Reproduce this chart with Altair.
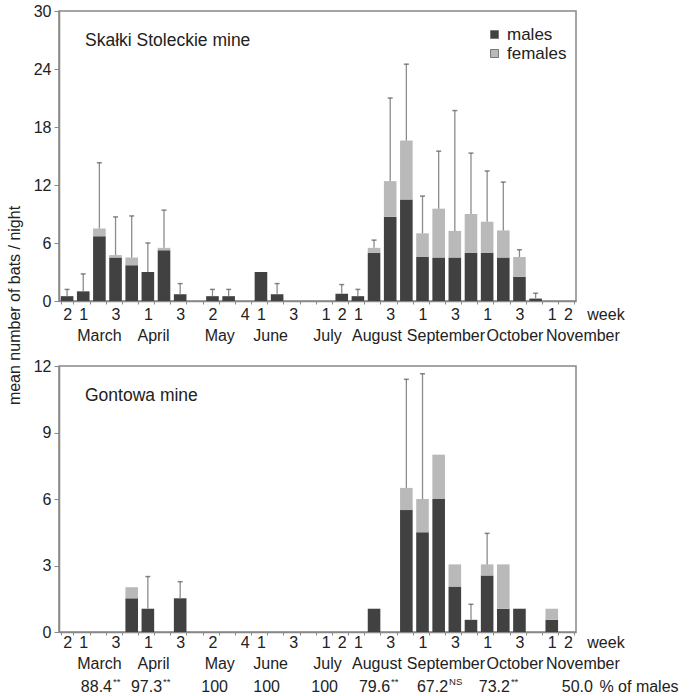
import altair as alt
import pandas as pd

FONT = "Liberation Sans"

slots = list(range(1, 33))
week_labels = ["2", "1", "", "3", "", "1", "", "3", "", "2", "", "4", "1", "", "3", "",
               "1", "2", "1", "", "3", "", "1", "", "3", "", "1", "", "3", "", "1", "2"]

# Skałki Stoleckie mine
top_males = [0.5, 1.0, 6.7, 4.5, 3.7, 3.0, 5.25, 0.7, 0, 0.5, 0.5, 0, 3.0, 0.7, 0, 0,
             0, 0.75, 0.5, 5.0, 8.7, 10.5, 4.55, 4.5, 4.5, 5.0, 5.0, 4.5, 2.5, 0.25, 0, 0]
top_females = [0, 0, 0.8, 0.25, 0.8, 0, 0.25, 0, 0, 0, 0, 0, 0, 0, 0, 0,
               0, 0, 0, 0.5, 3.7, 6.1, 2.45, 5.05, 2.75, 4.0, 3.2, 2.8, 2.05, 0, 0, 0]
top_sd = [0.7, 1.8, 6.8, 3.95, 4.3, 3.0, 3.9, 1.1, 0, 0.7, 0.7, 0, 0, 1.1, 0, 0,
          0, 0.95, 0.7, 0.8, 8.6, 7.9, 3.85, 5.95, 12.45, 6.3, 5.25, 5.0, 0.75, 0.55, 0, 0]

# Gontowa mine
bot_males = [0, 0, 0, 0, 1.52, 1.05, 0, 1.52, 0, 0, 0, 0, 0, 0, 0, 0,
             0, 0, 0, 1.05, 0, 5.5, 4.5, 6.0, 2.05, 0.55, 2.55, 1.05, 1.05, 0, 0.55, 0]
bot_females = [0, 0, 0, 0, 0.5, 0, 0, 0, 0, 0, 0, 0, 0, 0, 0, 0,
               0, 0, 0, 0, 0, 1.0, 1.5, 2.0, 1.0, 0, 0.5, 2.0, 0, 0, 0.5, 0]
bot_sd = [0, 0, 0, 0, 0, 1.45, 0, 0.75, 0, 0, 0, 0, 0, 0, 0, 0,
          0, 0, 0, 0, 0, 4.9, 5.65, 0, 0, 0.7, 1.4, 0, 0, 0, 0, 0]

month_names = ["March", "April", "May", "June", "July", "August", "September", "October", "November"]
month_pos = [3.0, 6.35, 10.45, 13.6, 17.12, 20.18, 24.45, 28.72, 32.93]

pct_values = ["88.4", "97.3", "100", "100", "100", "79.6", "67.2", "73.2", "50.0"]
pct_marks = ["**", "**", "", "", "", "**", "NS", "**", ""]
pct_pos = [3.78, 6.88, 10.96, 14.18, 17.77, 20.99, 24.58, 28.41, 33.55]

W = 517
label_expr = "[" + ",".join("'" + s + "'" for s in week_labels) + "][datum.value - 1]"
qscale = alt.Scale(domain=[0.5, 32.5], nice=False, zero=False)
bscale = alt.Scale(domain=slots, paddingInner=0.22, paddingOuter=0.11)


def panel(males, females, sd, ymax, ystep, title, H, label_pad, month_dy,
          legend, ytitle, pct=False):
    rows = []
    for s, m, f in zip(slots, males, females):
        rows.append({"slot": s, "sex": "males", "value": m, "ord": 0})
        rows.append({"slot": s, "sex": "females", "value": f, "ord": 1})
    df = pd.DataFrame(rows)
    err = pd.DataFrame([
        {"slot": s, "total": m + f, "top": m + f + e}
        for s, m, f, e in zip(slots, males, females, sd) if e > 0
    ])

    yaxis = alt.Axis(values=list(range(0, ymax + 1, ystep)), tickSize=5, labelPadding=3,
                     grid=False, title=None)
    if ytitle:
        yaxis = alt.Axis(values=list(range(0, ymax + 1, ystep)), tickSize=5, labelPadding=3,
                         grid=False, title=ytitle, titleFontSize=16, titleFontWeight="normal",
                         titleFont=FONT, titleColor="#222", titleX=-45, titleY=294,
                         titleAngle=270, titleAlign="center", titleBaseline="middle")
    yscale = alt.Scale(domain=[0, ymax], nice=False)

    bars = alt.Chart(df).mark_bar().encode(
        x=alt.X("slot:O", scale=bscale,
                axis=alt.Axis(title=None, labelExpr=label_expr, labelAngle=0,
                              tickBand="extent", tickSize=3, labelPadding=label_pad)),
        y=alt.Y("value:Q", stack="zero", scale=yscale, axis=yaxis),
        color=alt.Color("sex:N",
                        scale=alt.Scale(domain=["males", "females"], range=["#414141", "#b9b9b9"]),
                        legend=legend),
        order=alt.Order("ord:Q", sort="ascending"),
    )
    rule = alt.Chart(err).mark_rule(color="#8c8c8c", strokeWidth=1.3).encode(
        x=alt.X("slot:O", scale=bscale, axis=None),
        y=alt.Y("total:Q", scale=yscale),
        y2="top:Q",
    )
    cap = alt.Chart(err).mark_tick(color="#555555", thickness=1.5, size=5).encode(
        x=alt.X("slot:O", scale=bscale, axis=None),
        y=alt.Y("top:Q", scale=yscale),
    )
    ttl = alt.Chart(pd.DataFrame({"t": [title]})).mark_text(
        align="left", baseline="middle", fontSize=17.5, font=FONT, color="#222"
    ).encode(x=alt.value(26), y=alt.value(30), text="t:N")
    months = alt.Chart(pd.DataFrame({"m": month_names, "pos": month_pos})).mark_text(
        baseline="middle", fontSize=16, font=FONT, color="#222"
    ).encode(x=alt.X("pos:Q", scale=qscale, axis=None), y=alt.value(H + month_dy), text="m:N")
    week = alt.Chart(pd.DataFrame({"t": ["week"], "pos": [33.2]})).mark_text(
        align="left", baseline="middle", fontSize=16, font=FONT, color="#222"
    ).encode(x=alt.X("pos:Q", scale=qscale, axis=None),
             y=alt.value(H + label_pad + 12), text="t:N")
    layers = [bars, rule, cap, ttl, months, week]
    if pct:
        pdf = pd.DataFrame({"v": pct_values, "s": pct_marks, "pos": pct_pos})
        vals = alt.Chart(pdf).mark_text(
            align="right", baseline="middle", fontSize=16, font=FONT, color="#222"
        ).encode(x=alt.X("pos:Q", scale=qscale, axis=None), y=alt.value(H + 55), text="v:N")
        sups = alt.Chart(pdf).mark_text(
            align="left", baseline="middle", fontSize=9.5, font=FONT, color="#222", dx=1
        ).encode(x=alt.X("pos:Q", scale=qscale, axis=None), y=alt.value(H + 50), text="s:N")
        unit = alt.Chart(pd.DataFrame({"t": ["% of males"], "pos": [33.95]})).mark_text(
            align="left", baseline="middle", fontSize=16, font=FONT, color="#222"
        ).encode(x=alt.X("pos:Q", scale=qscale, axis=None), y=alt.value(H + 55), text="t:N")
        layers += [vals, sups, unit]
    return alt.layer(*layers).resolve_scale(x="independent").properties(width=W, height=H)


top = panel(top_males, top_females, top_sd, 30, 6, "Skałki Stoleckie mine", 290, 2, 35,
            alt.Legend(title=None, orient="none", legendX=427, legendY=15, symbolType="square",
                       symbolSize=64, symbolStrokeColor="#777777", symbolStrokeWidth=1,
                       labelFontSize=17, labelFont=FONT, labelColor="#222", rowPadding=1,
                       labelOffset=4, padding=0),
            "mean number of bats / night")
bottom = panel(bot_males, bot_females, bot_sd, 12, 3, "Gontowa mine", 266, -1, 32,
               None, None, pct=True)

chart = alt.vconcat(top, bottom, spacing=65, bounds="flush").resolve_scale(
    color="independent"
).properties(
    padding={"left": 5, "top": 2, "right": 0, "bottom": 0}
).configure_axis(
    labelFont=FONT, labelFontSize=16, labelColor="#222", domainColor="#888888",
    domainWidth=1.5, tickColor="#888888", grid=False
).configure_view(
    stroke="#888888", strokeWidth=1.5
)

chart.save("out.html", embed_options={"renderer": "svg", "actions": False})
